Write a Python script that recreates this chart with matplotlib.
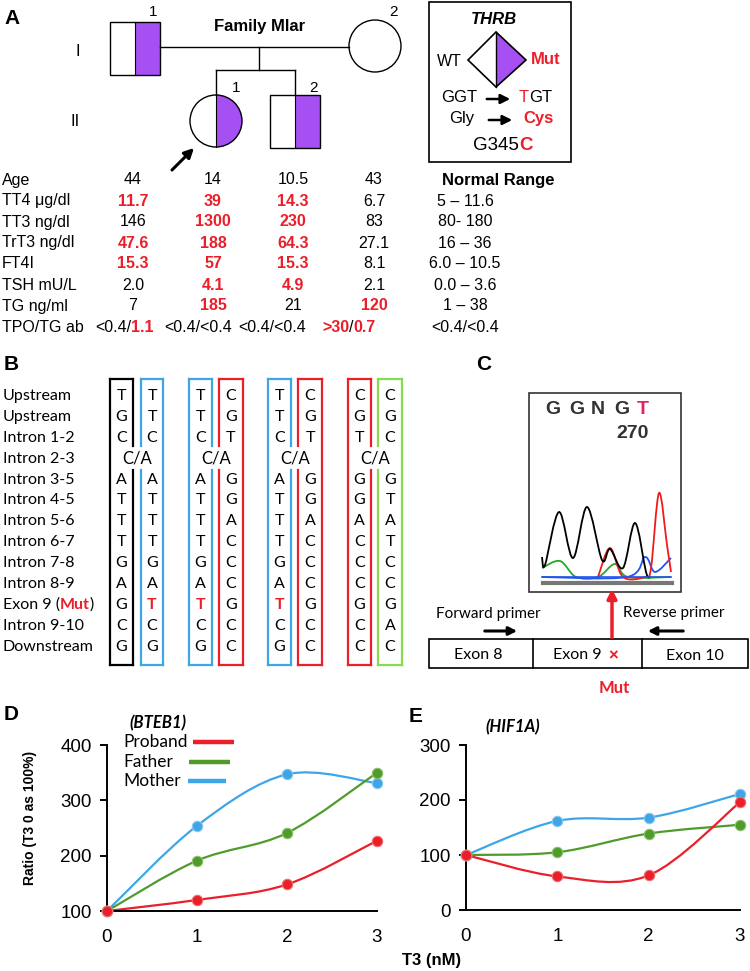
import matplotlib.pyplot as plt
import numpy as np
from matplotlib.patches import Rectangle, Circle, Wedge, Polygon, PathPatch
from matplotlib.path import Path

plt.rcParams['font.family'] = ['Liberation Sans', 'DejaVu Sans']

RED = '#ea1f2a'
PURPLE = '#a64ff2'
BLUE = '#3ea6e6'
GREEN = '#4f9c2c'
LIME = '#86dc4c'
CAL = ['Lato', 'DejaVu Sans']

# ---- panel A: clinical table
row_labels = ['Age', 'TT4 \u03bcg/dl', 'TT3 ng/dl', 'TrT3 ng/dl', 'FT4I', 'TSH mU/L', 'TG ng/ml', 'TPO/TG ab']
father_vals = ['44', '11.7', '146', '47.6', '15.3', '2.0', '7']
proband_vals = ['14', '39', '1300', '188', '57', '4.1', '185']
brother_vals = ['10.5', '14.3', '230', '64.3', '15.3', '4.9', '21']
mother_vals = ['43', '6.7', '83', '27.1', '8.1', '2.1', '120']
father_high = [0, 1, 0, 1, 1, 0, 0]
proband_high = [0, 1, 1, 1, 1, 1, 1]
brother_high = [0, 1, 1, 1, 1, 1, 0]
mother_high = [0, 0, 0, 0, 0, 0, 1]
tpo_tg = [[('<0.4/', 0), ('1.1', 1)],
          [('<0.4/<0.4', 0)],
          [('<0.4/<0.4', 0)],
          [('>30', 1), ('/', 0), ('0.7', 1)]]
normal_range = ['5 \u2013 11.6', '80- 180', '16 \u2013 36', '6.0 \u2013 10.5',
                '0.0 \u2013 3.6', '1 \u2013 38', '<0.4/<0.4']

# ---- panel B: SNP haplotypes
seq_rows = ['Upstream', 'Upstream', 'Intron 1-2', 'Intron 2-3', 'Intron 3-5', 'Intron 4-5',
            'Intron 5-6', 'Intron 6-7', 'Intron 7-8', 'Intron 8-9', 'Exon 9 (Mut)',
            'Intron 9-10', 'Downstream']
haplotypes = ['TGC ATTTGAGCG', 'TTC ATTTGATCG', 'TTC ATTTGATCG', 'CGT GGACCCGCC',
              'TTC ATTTGATCG', 'CGT GGACCCGCC', 'CGT GGACCCGCC', 'CGC GTATCCGAC']
haplo_colors = ['black', BLUE, BLUE, RED, BLUE, RED, RED, LIME]

# ---- panel C: chromatogram traces (image pixel coords)
chrom_black_x = [542, 545, 559, 573, 587, 602, 610, 623, 635, 646, 650]
chrom_black_y = [557, 565, 512, 558, 507, 560, 549, 568, 523, 572, 577]
chrom_green_x = [542, 560, 576, 598, 615, 628, 671]
chrom_green_y = [568, 561, 577, 577, 564, 577, 577]
chrom_red_x = [598, 610, 623, 645, 651, 659, 667, 671]
chrom_red_y = [577, 548, 577, 577, 568, 493, 545, 572]
chrom_blue_x = [542, 627, 645, 655, 671]
chrom_blue_y = [577, 577, 557, 572, 558]

# ---- panels D / E: T3 response
t3_dose = [0, 1, 2, 3]
bteb1_proband = [100, 120, 148, 227]
bteb1_father = [100, 191, 241, 350]
bteb1_mother = [100, 254, 347, 331]
hif1a_proband = [100, 61, 63, 196]
hif1a_father = [100, 105, 139, 155]
hif1a_mother = [100, 162, 168, 211]
legend_names = ['Proband', 'Father', 'Mother']


def smooth_path(xs, ys):
    pts = np.column_stack([xs, ys]).astype(float)
    n = len(pts)
    verts = [pts[0]]
    codes = [Path.MOVETO]
    for i in range(n - 1):
        p0 = pts[max(i - 1, 0)]
        p1 = pts[i]
        p2 = pts[i + 1]
        p3 = pts[min(i + 2, n - 1)]
        verts += [p1 + (p2 - p0) / 6, p2 - (p3 - p1) / 6, p2]
        codes += [Path.CURVE4] * 3
    return Path(verts, codes)


def rich_text(ax, x, y, pieces, size, family=None):
    t = None
    for txt, red in pieces:
        kw = dict(fontsize=size, color=RED if red else 'black',
                  fontweight='bold' if red else 'normal', ha='left')
        if family:
            kw['family'] = family
        if t is None:
            t = ax.text(x, y, txt, va='center', **kw)
        else:
            t = ax.annotate(txt, xy=(1, 0), xycoords=t, va='bottom', **kw)
    return t


fig = plt.figure(figsize=(7.5, 9.71), dpi=100)
ax = fig.add_axes([0, 0, 1, 1])
ax.set_xlim(0, 750)
ax.set_ylim(971, 0)
ax.axis('off')

# ================= Panel A =================
ax.text(4, 18, 'A', fontsize=15, fontweight='bold', va='center')
ax.text(78, 52, 'I', fontsize=12, va='center', ha='center')
ax.text(75, 122, 'II', fontsize=12, va='center', ha='center')
ax.text(260, 26, 'Family Mlar', fontsize=12, fontweight='bold', ha='center', va='center')

# father
ax.add_patch(Rectangle((110, 22), 25, 53, fc='white', ec='none'))
ax.add_patch(Rectangle((135, 22), 25, 53, fc=PURPLE, ec='none'))
ax.add_patch(Rectangle((110, 22), 50, 53, fc='none', ec='black', lw=1))
ax.plot([135, 135], [22, 75], color='black', lw=0.8)
ax.text(153, 12, '1', fontsize=11, ha='center', va='center')
# mother
ax.add_patch(Circle((375, 46), 26, fc='white', ec='black', lw=1))
ax.text(393, 12, '2', fontsize=11, ha='center', va='center')
# lines
ax.plot([160, 349], [47, 47], color='black', lw=1)
ax.plot([259, 259], [47, 70], color='black', lw=1)
ax.plot([216, 295], [70, 70], color='black', lw=1)
ax.plot([216, 216], [70, 95], color='black', lw=1)
ax.plot([295, 295], [70, 95], color='black', lw=1)
# proband
ax.add_patch(Circle((216, 121), 26, fc='white', ec='none'))
ax.add_patch(Wedge((216, 121), 26, -90, 90, fc=PURPLE, ec='none'))
ax.add_patch(Circle((216, 121), 26, fc='none', ec='black', lw=1))
ax.plot([216, 216], [95, 147], color='black', lw=0.8)
ax.text(236, 88, '1', fontsize=11, ha='center', va='center')
# brother
ax.add_patch(Rectangle((270, 95), 25, 53, fc='white', ec='none'))
ax.add_patch(Rectangle((295, 95), 25, 53, fc=PURPLE, ec='none'))
ax.add_patch(Rectangle((270, 95), 50, 53, fc='none', ec='black', lw=1))
ax.plot([295, 295], [95, 148], color='black', lw=0.8)
ax.text(313, 88, '2', fontsize=11, ha='center', va='center')
ax.annotate('', xy=(196, 146), xytext=(170, 172),
            arrowprops=dict(arrowstyle='-|>', color='black', lw=2.2, mutation_scale=14))

# THRB box
ax.add_patch(Rectangle((429, 2), 142, 160, fc='none', ec='black', lw=1.2))
ax.text(494, 20, 'THRB', fontsize=12, fontweight='bold', style='italic', ha='center', va='center')
ax.add_patch(Polygon([(496, 32), (468, 60), (496, 87)], fc='white', ec='none'))
ax.add_patch(Polygon([(496, 32), (526, 60), (496, 87)], fc=PURPLE, ec='none'))
ax.add_patch(Polygon([(496, 32), (468, 60), (496, 87), (526, 60)], fc='none', ec='black', lw=1.2, closed=True))
ax.plot([496, 496], [32, 87], color='black', lw=1)
ax.text(449, 61, 'WT', fontsize=11.5, ha='center', va='center')
ax.text(531, 59, 'Mut', fontsize=12, fontweight='bold', color=RED, ha='left', va='center')
ax.text(441, 98, 'GGT', fontsize=12, ha='left', va='center')
ax.annotate('', xy=(513, 99), xytext=(484, 99),
            arrowprops=dict(arrowstyle='-|>', color='black', lw=1.8, mutation_scale=14))
t = ax.text(519, 98, 'T', fontsize=12, color=RED, ha='left', va='center')
ax.annotate('GT', xy=(1, 0), xycoords=t, fontsize=12, ha='left', va='bottom')
ax.text(449, 119, 'Gly', fontsize=12, ha='left', va='center')
ax.annotate('', xy=(515, 120), xytext=(486, 120),
            arrowprops=dict(arrowstyle='-|>', color='black', lw=1.8, mutation_scale=14))
ax.text(523, 119, 'Cys', fontsize=12, fontweight='bold', color=RED, ha='left', va='center')
t = ax.text(473, 146, 'G345', fontsize=13.5, ha='left', va='center')
ax.annotate('C', xy=(1, 0), xycoords=t, fontsize=13.5, fontweight='bold', color=RED, ha='left', va='bottom')

# table
cols_x = [133, 213, 293, 374]
row_y = [180 + 21 * i for i in range(len(row_labels))]
for lab, y in zip(row_labels, row_y):
    ax.text(2, y, lab, fontsize=11.5, ha='left', va='center')
members = [(father_vals, father_high), (proband_vals, proband_high),
           (brother_vals, brother_high), (mother_vals, mother_high)]
for cx, (vals, high) in zip(cols_x, members):
    for v, h, y in zip(vals, high, row_y):
        ax.text(cx, y, v, fontsize=11.5, ha='center', va='center',
                color=RED if h else 'black', fontweight='bold' if h else 'normal')
for sx, pieces in zip([95, 164, 238, 322], tpo_tg):
    rich_text(ax, sx, row_y[-1], pieces, 11.5)
ax.text(498, row_y[0], 'Normal Range', fontsize=12, fontweight='bold', ha='center', va='center')
for v, y in zip(normal_range, row_y[1:]):
    ax.text(465, y, v, fontsize=11.5, ha='center', va='center')

# ================= Panel B =================
ax.text(4, 365, 'B', fontsize=15, fontweight='bold', va='center')
seq_y = [396 + 20.9 * i for i in range(len(seq_rows))]
for lab, y in zip(seq_rows, seq_y):
    if '(Mut)' in lab:
        rich_text(ax, 3, y, [('Exon 9 (', 0), ('Mut', 1), (')', 0)], 11.5, family=CAL)
    else:
        ax.text(3, y, lab, fontsize=11.5, family=CAL, ha='left', va='center')

box_x = [(110, 133), (141, 163), (189, 212), (219, 243),
         (268, 291), (298, 322), (348, 371), (378, 402)]
top, bot, g0, g1 = 379, 665, 446, 470
for k, ((x0, x1), seq, col) in enumerate(zip(box_x, haplotypes, haplo_colors)):
    left_of_pair = (k % 2 == 0)
    ax.plot([x0, x1], [top, top], color=col, lw=1.6)
    ax.plot([x0, x1], [bot, bot], color=col, lw=1.6)
    if left_of_pair:
        ax.plot([x0, x0], [top, bot], color=col, lw=1.6)
        ax.plot([x1, x1], [top, g0], color=col, lw=1.6)
        ax.plot([x1, x1], [g1, bot], color=col, lw=1.6)
    else:
        ax.plot([x1, x1], [top, bot], color=col, lw=1.6)
        ax.plot([x0, x0], [top, g0], color=col, lw=1.6)
        ax.plot([x0, x0], [g1, bot], color=col, lw=1.6)
    cx = (x0 + x1) / 2
    for i, ch in enumerate(seq):
        if ch == ' ':
            continue
        mut = (i == 10 and col == BLUE)
        ax.text(cx, seq_y[i], ch, fontsize=11.5, family=CAL, ha='center', va='center',
                color=RED if mut else 'black', fontweight='bold' if mut else 'normal')
for k in range(0, 8, 2):
    cx = (box_x[k][0] + box_x[k][1] + box_x[k + 1][0] + box_x[k + 1][1]) / 4
    ax.text(cx, seq_y[3], 'C/A', fontsize=12, family=CAL, ha='center', va='center')

# ================= Panel C =================
ax.text(476, 365, 'C', fontsize=15, fontweight='bold', va='center')
ax.add_patch(Rectangle((529, 393), 152, 199, fc='white', ec='#333333', lw=1.2))
gx = [553, 577, 598, 622, 643]
for ch, x in zip('GGNGT', gx):
    ax.text(x, 409, ch, fontsize=14, fontweight='bold', color='#e8206a' if ch == 'T' else '#333333',
            ha='center', va='center')
ax.text(633, 433, '270', fontsize=14, fontweight='bold', color='#333333', ha='center', va='center')
ax.plot([542, 671], [577, 577], color='#2255ee', lw=1.2)
for xs, ys, c in [(chrom_green_x, chrom_green_y, '#22aa22'), (chrom_blue_x, chrom_blue_y, '#2255ee'),
                  (chrom_red_x, chrom_red_y, '#ee1c1c'), (chrom_black_x, chrom_black_y, 'black')]:
    ax.add_patch(PathPatch(smooth_path(xs, ys), fc='none', ec=c, lw=1.3))
ax.plot([543, 672], [583.5, 583.5], color='#777777', lw=3)
ax.annotate('', xy=(612, 586), xytext=(612, 640),
            arrowprops=dict(arrowstyle='-|>', color=RED, lw=2.5, mutation_scale=14))

ax.text(488, 614, 'Forward primer', fontsize=11, family=CAL, ha='center', va='center')
ax.text(674, 613, 'Reverse primer', fontsize=11, family=CAL, ha='center', va='center')
ax.annotate('', xy=(520, 631), xytext=(482, 631),
            arrowprops=dict(arrowstyle='-|>', color='black', lw=2.2, mutation_scale=12))
ax.annotate('', xy=(645, 631), xytext=(686, 631),
            arrowprops=dict(arrowstyle='-|>', color='black', lw=2.2, mutation_scale=12))
ax.add_patch(Rectangle((429, 639), 319, 29, fc='white', ec='black', lw=1.2))
ax.plot([533, 533], [639, 668], color='black', lw=1.2)
ax.plot([642, 642], [639, 668], color='black', lw=1.2)
ax.text(478, 655, 'Exon 8', fontsize=11.5, family=CAL, ha='center', va='center')
ax.text(577, 655, 'Exon 9', fontsize=11.5, family=CAL, ha='center', va='center')
ax.text(613, 656, '\u00d7', fontsize=12, color=RED, fontweight='bold', ha='center', va='center')
ax.text(695, 656, 'Exon 10', fontsize=11.5, family=CAL, ha='center', va='center')
ax.text(614, 688, 'Mut', fontsize=12, family=CAL, fontweight='bold', color=RED, ha='center', va='center')

# ================= Panels D / E =================
ax.text(4, 715, 'D', fontsize=15, fontweight='bold', va='center')
ax.text(409, 717, 'E', fontsize=15, fontweight='bold', va='center')
ax.text(158, 723, '(BTEB1)', fontsize=12, family=CAL, fontweight='bold', style='italic',
        va='center', ha='center')
ax.text(513, 727, '(HIF1A)', fontsize=12, family=CAL, fontweight='bold', style='italic',
        va='center', ha='center')
ax.text(30, 818, 'Ratio (T3 0 as 100%)', fontsize=10, fontweight='bold', rotation=90,
        ha='center', va='center')
ax.text(432, 960, 'T3 (nM)', fontsize=12, fontweight='bold', ha='center', va='center')

# legend of panel D (text first, line after)
leg_y = [742, 762, 781]
leg_line_x = [(193, 234), (189, 230), (188, 226)]
for name, y, (lx0, lx1), c in zip(legend_names, leg_y, leg_line_x, [RED, GREEN, BLUE]):
    ax.text(123, y, name, fontsize=12.5, family=CAL, ha='left', va='center')
    ax.plot([lx0, lx1], [y, y], color=c, lw=3.2, solid_capstyle='butt')

axD = fig.add_axes([107 / 750, 1 - 911 / 971, 270 / 750, 166 / 971])
axE = fig.add_axes([466 / 750, 1 - 910 / 971, 274 / 750, 165 / 971])

series = [
    (axD, [bteb1_mother, bteb1_father, bteb1_proband], (100, 400), [100, 200, 300, 400]),
    (axE, [hif1a_mother, hif1a_father, hif1a_proband], (0, 300), [0, 100, 200, 300]),
]
line_cols = [BLUE, GREEN, RED]
edge_cols = ['#8cc8f0', '#8cc070', '#f07070']
for a, data, ylim, yt in series:
    for vals, c, ec in zip(data, line_cols, edge_cols):
        a.add_patch(PathPatch(smooth_path(t3_dose, vals), fc='none', ec=c, lw=1.6, clip_on=False))
        a.plot(t3_dose, vals, 'o', ms=7.5, mfc=c, mec=ec, mew=0.8, clip_on=False, zorder=3)
    a.set_xlim(0, 3)
    a.set_ylim(*ylim)
    a.set_xticks(t3_dose)
    a.set_yticks(yt)
    a.spines['top'].set_visible(False)
    a.spines['right'].set_visible(False)
    a.spines['left'].set_linewidth(1.4)
    a.spines['bottom'].set_linewidth(1.4)
    a.tick_params(axis='y', length=5, width=1.4, direction='out', labelsize=13.5, pad=6)
    a.tick_params(axis='x', length=0, labelsize=13.5, pad=13)
    a.patch.set_alpha(0)

fig.savefig('out.png', dpi=100)
